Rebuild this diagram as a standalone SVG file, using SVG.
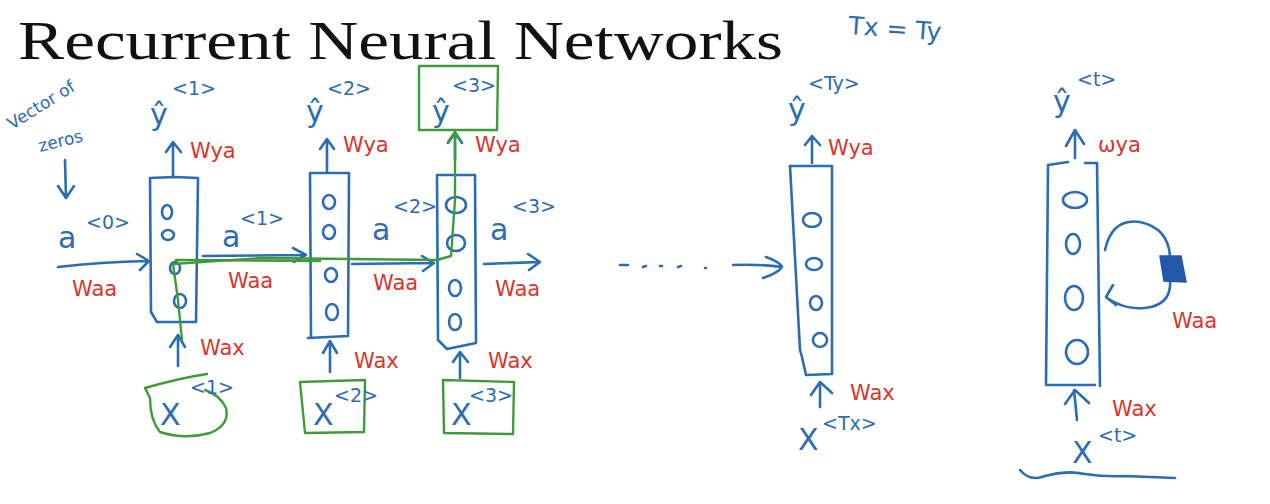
<svg xmlns="http://www.w3.org/2000/svg" width="1270" height="504" viewBox="0 0 1270 504">
<defs>
<style>
.b{fill:none;stroke:#2b6cb3;stroke-width:2.6;stroke-linecap:round;stroke-linejoin:round}
.g{fill:none;stroke:#3f9a3c;stroke-width:2.4;stroke-linecap:round;stroke-linejoin:round}
.t{font-family:"DejaVu Sans","Liberation Sans",sans-serif;fill:#2b6cb3}
.r{font-family:"DejaVu Sans","Liberation Sans",sans-serif;fill:#d8352d;font-size:21px}
.big{font-size:30px}
.sup{font-size:19px}
</style>
</defs>
<rect width="1270" height="504" fill="#fff"/>
<text x="18" y="59" font-family="'Liberation Serif',serif" font-size="54" textLength="765" lengthAdjust="spacingAndGlyphs" fill="#111">Recurrent Neural Networks</text>
<text class="t" x="848" y="34" font-size="25" transform="rotate(4 848 34)">Tx = Ty</text>

<g id="vector-of-zeros">
<text class="t" x="12" y="130" font-size="17" transform="rotate(-32 12 130)">Vector of</text>
<text class="t" x="40" y="152" font-size="17" transform="rotate(-14 40 152)">zeros</text>
</g>

<g id="cell1">
<path class="b" d="M150 178 L151 312 L157 322 L196 322 L198 178 L175 177 L150 178"/>
<ellipse class="b" cx="167" cy="212" rx="5" ry="7"/>
<ellipse class="b" cx="168" cy="235" rx="6" ry="5"/>
<ellipse class="b" cx="175" cy="268" rx="5" ry="6"/>
<ellipse class="b" cx="180" cy="301" rx="6" ry="7"/>
</g>
<g id="yhat1"><text class="t big" x="150" y="125">ŷ</text><text class="t sup" x="172" y="95">&lt;1&gt;</text></g>
<g id="x1">
<path class="g" d="M145 388 Q180 378 207 374 M145 388 L150 398 Q150 420 160 432 Q185 440 210 433 Q230 425 226 408 Q220 395 205 390"/>
<text class="t big" x="160" y="425">X</text><text class="t sup" x="190" y="394">&lt;1&gt;</text>
</g>

<g id="cell2">
<path class="b" d="M310 173 L311 337 M308 338 L348 336 L349 173 L310 173"/>
<ellipse class="b" cx="329" cy="202" rx="6" ry="7"/>
<ellipse class="b" cx="329" cy="232" rx="6" ry="7"/>
<ellipse class="b" cx="331" cy="275" rx="6" ry="7"/>
<ellipse class="b" cx="332" cy="312" rx="6" ry="8"/>
</g>
<g id="yhat2"><text class="t big" x="306" y="122">ŷ</text><text class="t sup" x="327" y="95">&lt;2&gt;</text></g>
<g id="x2">
<path class="g" d="M300 382 L365 380 L364 432 L305 433 Z"/>
<text class="t big" x="313" y="425">X</text><text class="t sup" x="334" y="402">&lt;2&gt;</text>
</g>

<g id="cell3">
<path class="b" d="M437 175 L438 340 L447 349 L476 343 L475 175 Z"/>
<ellipse class="b" cx="456" cy="205" rx="10" ry="8"/>
<ellipse class="b" cx="456" cy="243" rx="9" ry="8"/>
<ellipse class="b" cx="455" cy="288" rx="6" ry="8"/>
<ellipse class="b" cx="455" cy="322" rx="6" ry="8"/>
</g>
<g id="yhat3">
<path class="g" d="M419 66 L498 66 L497 130 L419 130 Z"/>
<text class="t big" x="432" y="122">ŷ</text><text class="t sup" x="452" y="92">&lt;3&gt;</text>
</g>
<g id="x3">
<path class="g" d="M443 380 L514 382 L513 434 L444 433 Z"/>
<text class="t big" x="451" y="425">X</text><text class="t sup" x="469" y="402">&lt;3&gt;</text>
</g>

<g id="cellT">
<path class="b" d="M790 166 L800 350 L802 357 L806 375 L832 374 L832 166 Z"/>
<ellipse class="b" cx="812" cy="220" rx="9" ry="7"/>
<ellipse class="b" cx="814" cy="264" rx="8" ry="6"/>
<ellipse class="b" cx="816" cy="303" rx="6" ry="7"/>
<ellipse class="b" cx="820" cy="340" rx="7" ry="7"/>
</g>
<g id="yhatT"><text class="t big" x="788" y="120">ŷ</text><text class="t sup" x="808" y="90">&lt;Ty&gt;</text></g>
<g id="xT"><text class="t big" x="798" y="450">X</text><text class="t sup" x="822" y="430">&lt;Tx&gt;</text></g>

<g id="cellt">
<path class="b" d="M1048 165 L1046 385 L1095 385 M1100 386 L1097 163 L1085 163 M1068 162 L1048 165"/>
<ellipse class="b" cx="1075" cy="200" rx="12" ry="8"/>
<ellipse class="b" cx="1073" cy="244" rx="7" ry="10"/>
<ellipse class="b" cx="1074" cy="298" rx="9" ry="12"/>
<ellipse class="b" cx="1077" cy="352" rx="11" ry="12"/>
</g>
<g id="yhatt"><text class="t big" x="1053" y="112">ŷ</text><text class="t sup" x="1077" y="86">&lt;t&gt;</text></g>
<g id="xt"><text class="t big" x="1072" y="463">X</text><text class="t sup" x="1098" y="442">&lt;t&gt;</text>
<path class="b" d="M1020 470 Q1030 482 1045 476 Q1065 470 1085 474 Q1105 477 1125 476 L1175 478"/></g>

<g id="connectors">
<path class="b" d="M65 160 L66 197 M58 186 L66 198 L74 186"/>
<path class="b" d="M58 267 Q100 262 148 261 M137 254 L149 261 L140 270"/>
<path class="b" d="M203 256 L305 255 M293 248 L306 255 L294 262"/>
<path class="b" d="M352 264 L432 263 M422 256 L434 263 L423 271"/>
<path class="b" d="M484 264 L540 262 M528 254 L540 262 L529 270"/>
<path class="b" d="M620 265 L628 265 M643 267 L646 266 M660 266 L662 266 M678 267 L681 266 M705 268 L706 268"/>
<path class="b" d="M733 265 Q760 264 782 267 M766 257 Q780 262 782 267 Q778 273 763 278"/>
<path class="b" d="M173 177 L173 143 M166 152 L173 142 L181 152"/>
<path class="b" d="M327 171 L327 140 M320 149 L327 139 L334 149"/>
<path class="b" d="M455 160 L455 134 M448 143 L455 133 L462 143"/>
<path class="b" d="M812 163 L812 136 M805 145 L812 136 L820 145"/>
<path class="b" d="M1075 158 L1075 130 M1066 146 L1075 130 L1084 144"/>
<path class="b" d="M178 366 L178 335 M170 347 L178 335 L185 347"/>
<path class="b" d="M330 372 L330 342 M323 353 L330 341 L337 353"/>
<path class="b" d="M460 378 L460 352 M453 362 L460 352 L468 362"/>
<path class="b" d="M820 407 L820 382 M811 395 L820 382 L832 393"/>
<path class="b" d="M1077 420 L1074 390 M1065 404 L1075 390 L1089 403"/>
<path class="b" d="M1105 250 Q1112 218 1140 222 Q1168 228 1170 256 M1170 280 Q1172 305 1145 308 Q1125 310 1107 298 M1113 285 L1106 297 L1116 305"/>
<path d="M1160 256 L1181 256 L1186 282 L1164 281 Z" fill="#2358a8" stroke="#2358a8" stroke-width="1.5"/>
<path class="g" d="M182 340 L178 300 L173 264 L262 258 L437 260 L451 256 L455 200 L455 132"/>
<path class="g" d="M176 260 L320 261"/>
<path class="g" d="M448 142 L455 132 L461 141"/>
</g>

<g id="labels">
<text class="t big" x="58" y="248">a</text><text class="t sup" x="86" y="229">&lt;0&gt;</text>
<text class="t big" x="222" y="247">a</text><text class="t sup" x="240" y="225">&lt;1&gt;</text>
<text class="t big" x="372" y="240">a</text><text class="t sup" x="393" y="213">&lt;2&gt;</text>
<text class="t big" x="490" y="240">a</text><text class="t sup" x="512" y="213">&lt;3&gt;</text>
<text class="r" x="72" y="296">Waa</text>
<text class="r" x="228" y="288">Waa</text>
<text class="r" x="373" y="290">Waa</text>
<text class="r" x="495" y="296">Waa</text>
<text class="r" x="1172" y="328">Waa</text>
<text class="r" x="190" y="158">Wya</text>
<text class="r" x="343" y="152">Wya</text>
<text class="r" x="475" y="152">Wya</text>
<text class="r" x="828" y="155">Wya</text>
<text class="r" x="1098" y="152">ωya</text>
<text class="r" x="200" y="355">Wax</text>
<text class="r" x="354" y="368">Wax</text>
<text class="r" x="488" y="368">Wax</text>
<text class="r" x="850" y="400">Wax</text>
<text class="r" x="1112" y="416">Wax</text>
</g>
</svg>
